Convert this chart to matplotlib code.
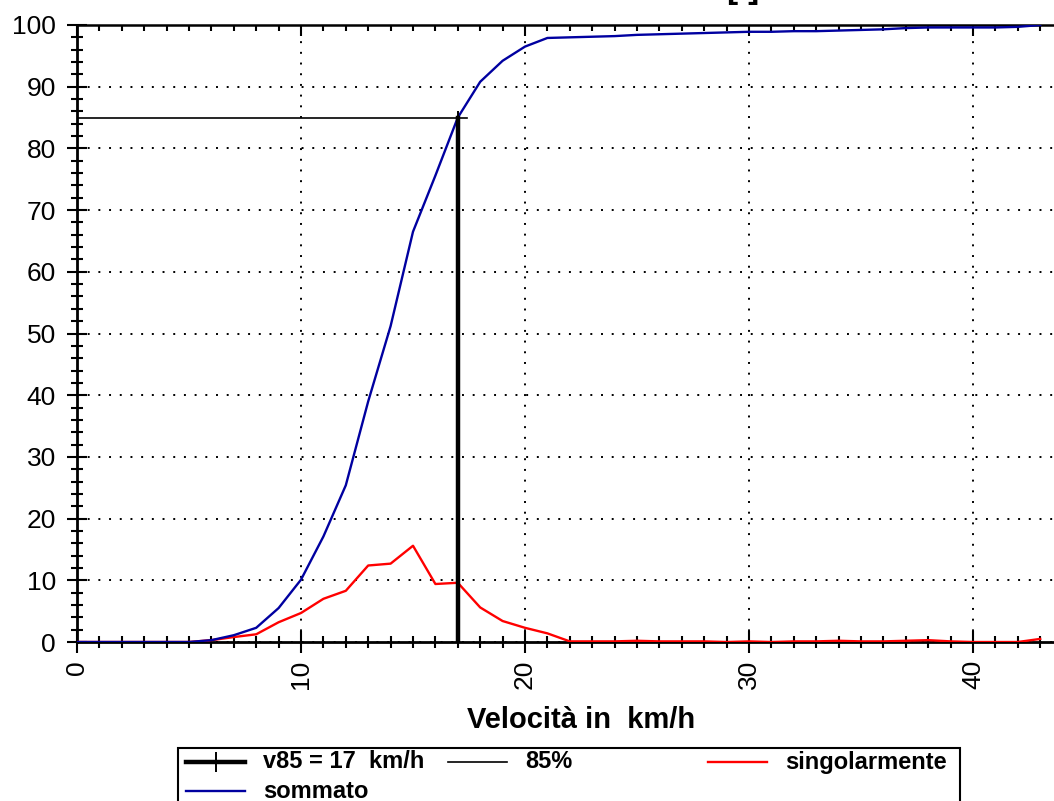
import matplotlib
matplotlib.use("Agg")
import matplotlib.pyplot as plt
from matplotlib.ticker import MultipleLocator, FixedLocator
from matplotlib.lines import Line2D
from matplotlib.patches import Rectangle

plt.rcParams['font.family'] = ['Liberation Sans', 'DejaVu Sans']

# ---------------- data ----------------
speed = [0, 1, 2, 3, 4, 5, 6, 7, 8, 9, 10, 11, 12, 13, 14, 15, 16, 17, 18, 19, 20, 21,
         22, 23, 24, 25, 26, 27, 28, 29, 30, 31, 32, 33, 34, 35, 36, 37, 38, 39, 40, 41, 42, 43]
singolarmente = [0, 0, 0, 0, 0, 0, 0.3, 0.8, 1.25, 3.2, 4.7, 7.0, 8.3, 12.4, 12.7, 15.6, 9.4, 9.6,
                 5.6, 3.4, 2.3, 1.4, 0.1, 0.1, 0.1, 0.2, 0.1, 0.1, 0.1, 0.0, 0.1, 0.0, 0.1, 0.1,
                 0.2, 0.1, 0.1, 0.2, 0.3, 0.1, 0.0, 0.0, 0.0, 0.5]
sommato = [0, 0, 0, 0, 0, 0, 0.3, 1.1, 2.3, 5.5, 10.1, 17.1, 25.4, 39.0, 51.2, 66.5, 75.6, 85.0,
           90.8, 94.2, 96.5, 97.9, 98.0, 98.1, 98.2, 98.4, 98.5, 98.6, 98.7, 98.8, 98.9, 98.9,
           99.0, 99.0, 99.1, 99.2, 99.3, 99.5, 99.6, 99.6, 99.6, 99.6, 99.7, 100.0]
v85 = 17
pct85 = 85
pct85_line_end = 17.4
x_major = [0, 10, 20, 30, 40]
y_major = [0, 10, 20, 30, 40, 50, 60, 70, 80, 90, 100]
xlabel = "Velocità in  km/h"
legend_labels = ["v85 = 17  km/h", "85%", "singolarmente", "sommato"]
title_text = "[-]"

BLUE = '#0000A0'
RED = '#FF0000'

W, H = 1054, 801
fig = plt.figure(figsize=(W / 100, H / 100), dpi=100)

px_per_unit = 22.4
ax = fig.add_axes([77 / W, 1 - 642 / H, 45 * px_per_unit / W, 617 / H])
ax.set_xlim(0, 45)
ax.set_ylim(0, 100)

ax.set_axisbelow(True)
ax.grid(which='major', linestyle=(0, (1, 4.5)), color='black', linewidth=1.4)

ax.plot(speed, singolarmente, color=RED, lw=1.7, zorder=3)
ax.plot(speed, sommato, color=BLUE, lw=1.7, zorder=3)
ax.plot([0, pct85_line_end], [pct85, pct85], color='black', lw=1.2, zorder=4)
ax.plot([v85, v85], [0, pct85], color='black', lw=3.2, zorder=5,
        marker='|', markevery=[1], markersize=10, markeredgewidth=1.4)

# spines
for s in ['bottom', 'left']:
    ax.spines[s].set_linewidth(2.0)
ax.spines['top'].set_linewidth(1.8)
ax.spines['right'].set_visible(False)

# ticks
ax.xaxis.set_major_locator(FixedLocator(x_major))
ax.xaxis.set_minor_locator(MultipleLocator(1))
ax.yaxis.set_major_locator(FixedLocator(y_major))
ax.yaxis.set_minor_locator(MultipleLocator(2))
ax.tick_params(axis='x', which='major', direction='inout', length=16, width=1.5,
               labelsize=19, pad=5, labelrotation=90)
ax.tick_params(axis='x', which='minor', direction='inout', length=8, width=1.5)
ax.tick_params(axis='y', which='major', direction='inout', length=14.5, width=1.5,
               labelsize=19, pad=8)
ax.tick_params(axis='y', which='minor', direction='inout', length=8, width=1.5)
ax.tick_params(right=False, which='both')

sec = ax.secondary_xaxis('top')
sec.xaxis.set_major_locator(FixedLocator(x_major))
sec.xaxis.set_minor_locator(MultipleLocator(1))
sec.tick_params(which='major', direction='in', length=8, width=1.5, labeltop=False)
sec.tick_params(which='minor', direction='in', length=4.5, width=1.5)
sec.spines['top'].set_visible(False)

ax.set_xlabel(xlabel, fontsize=21, fontweight='bold', labelpad=12)

# partially visible title at very top (cut off in the reference as well)
fig.text(743 / W, 1 + 2 / H, title_text, fontsize=24, fontweight='bold',
         ha='center', va='baseline')

# ---------------- manual legend ----------------
def fx(p):
    return p / W

def fy(p):
    return 1 - p / H

fig.add_artist(Rectangle((fx(178), fy(810)), fx(960) - fx(178), fy(748) - fy(810),
                         transform=fig.transFigure, facecolor='white',
                         edgecolor='black', linewidth=1.5))
entries = [
    (186, 762, dict(color='black', lw=3.2), legend_labels[0], True),
    (448, 762, dict(color='black', lw=1.2), legend_labels[1], False),
    (708, 762, dict(color=RED, lw=1.7), legend_labels[2], False),
    (186, 791, dict(color=BLUE, lw=1.7), legend_labels[3], False),
]
for x0, yc, style, lab, mk in entries:
    xs = [fx(x0), fx(x0 + 29.5), fx(x0 + 59)]
    ys = [fy(yc)] * 3
    if mk:
        ln = Line2D(xs, ys, transform=fig.transFigure, marker='|', markevery=[1],
                    markersize=14, markeredgewidth=1.4, **style)
    else:
        ln = Line2D(xs, ys, transform=fig.transFigure, **style)
    fig.add_artist(ln)
    fig.text(fx(x0 + 77), fy(yc), lab, fontsize=17, fontweight='bold',
             ha='left', va='center')

fig.savefig('out.png', dpi=100)
